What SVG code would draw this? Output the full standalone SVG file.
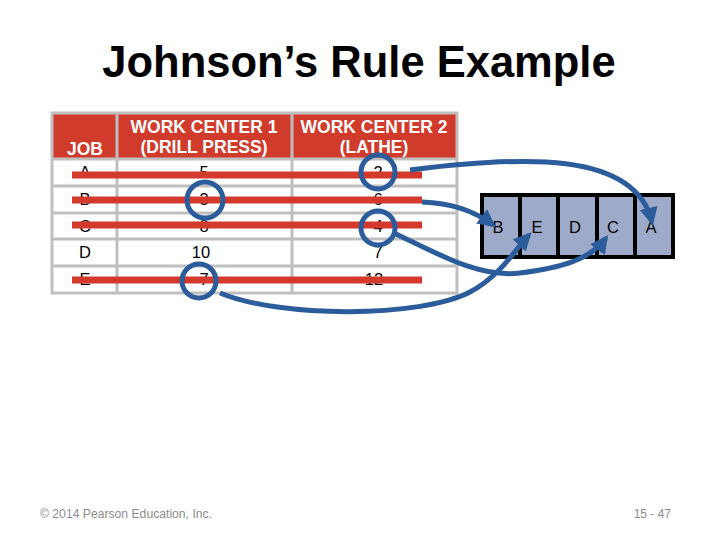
<svg xmlns="http://www.w3.org/2000/svg" width="720" height="540" viewBox="0 0 720 540">
<defs>
<style>
text{font-family:"Liberation Sans",Arial,sans-serif;}
.hd{fill:#fff;font-weight:bold;font-size:17.5px;text-anchor:middle;}
.cell{fill:#000;font-size:16.5px;text-anchor:middle;}
.grid{stroke:#BFBFBF;stroke-width:3;fill:none;}
.strike{stroke:#D33A2C;stroke-width:7;}
.ring{fill:none;stroke:#2B5C9B;stroke-width:5;}
.arr{fill:none;stroke:#2B5C9B;stroke-width:5;marker-end:url(#ah);}
.seq rect{fill:#9EAAC9;stroke:#000;stroke-width:4;}
.seq text{font-size:16.5px;text-anchor:middle;fill:#000;}
</style>
<marker id="ah" viewBox="0 0 10 10" refX="8" refY="5" markerWidth="3.6" markerHeight="3.6" orient="auto" markerUnits="strokeWidth">
<path d="M0,0 L10,5 L0,10 z" fill="#2B5C9B"/>
</marker>
</defs>
<rect width="720" height="540" fill="#fff"/>
<text x="359" y="77" font-size="43.5" font-weight="bold" text-anchor="middle" fill="#000">Johnson’s Rule Example</text>

<g id="table">
<rect x="52" y="113" width="405" height="46" fill="#D13B2C"/>
<rect x="52" y="113" width="405" height="180" class="grid"/>
<line x1="117" y1="113" x2="117" y2="293" class="grid"/>
<line x1="292" y1="113" x2="292" y2="293" class="grid"/>
<line x1="52" y1="159" x2="457" y2="159" class="grid"/>
<line x1="52" y1="186" x2="457" y2="186" class="grid"/>
<line x1="52" y1="213" x2="457" y2="213" class="grid"/>
<line x1="52" y1="239" x2="457" y2="239" class="grid"/>
<line x1="52" y1="266" x2="457" y2="266" class="grid"/>
<text x="85" y="155" class="hd">JOB</text>
<text x="204" y="133" class="hd">WORK CENTER 1</text>
<text x="204" y="153" class="hd">(DRILL PRESS)</text>
<text x="374" y="133" class="hd">WORK CENTER 2</text>
<text x="374" y="153" class="hd">(LATHE)</text>
<text x="85" y="178" class="cell">A</text><text x="204" y="178" class="cell">5</text><text x="378" y="178" class="cell">2</text>
<text x="85" y="205" class="cell">B</text><text x="204" y="205" class="cell">3</text><text x="378" y="205" class="cell">6</text>
<text x="85" y="232" class="cell">C</text><text x="204" y="232" class="cell">8</text><text x="378" y="232" class="cell">4</text>
<text x="85" y="258" class="cell">D</text><text x="201" y="258" class="cell">10</text><text x="378" y="258" class="cell">7</text>
<text x="85" y="285" class="cell">E</text><text x="204" y="285" class="cell">7</text><text x="374" y="285" class="cell">12</text>
</g>

<g id="strikes">
<line x1="72" y1="175" x2="422" y2="175" class="strike"/>
<line x1="72" y1="200" x2="422" y2="200" class="strike"/>
<line x1="72" y1="225" x2="422" y2="225" class="strike"/>
<line x1="72" y1="280" x2="422" y2="280" class="strike"/>
</g>

<g id="circles">
<circle cx="205" cy="200" r="18" class="ring"/>
<circle cx="199" cy="281" r="17" class="ring"/>
<circle cx="378" cy="172" r="17" class="ring"/>
<circle cx="378" cy="228" r="17" class="ring"/>
</g>

<g id="sequence" class="seq">
<g id="seq-B"><rect x="482" y="195" width="38" height="62"/><text x="498" y="233">B</text></g>
<g id="seq-E"><rect x="520" y="195" width="38" height="62"/><text x="537" y="233">E</text></g>
<g id="seq-D"><rect x="558" y="195" width="39" height="62"/><text x="575" y="233">D</text></g>
<g id="seq-C"><rect x="597" y="195" width="38" height="62"/><text x="613" y="233">C</text></g>
<g id="seq-A"><rect x="635" y="195" width="38" height="62"/><text x="651" y="233">A</text></g>
</g>

<g id="connectors">
<path class="arr" d="M410,170 C520,156 635,150 652,222"/>
<path class="arr" d="M422,202 C452,203 476,212 493,225"/>
<path class="arr" d="M396,234 C440,255 480,278 520,273 C560,268 590,260 606,238"/>
<path class="arr" d="M220,293 C280,318 420,318 470,292 C500,276 515,250 529,235"/>
</g>

<text x="40" y="518" font-size="12" fill="#8C8C8C" textLength="172" lengthAdjust="spacingAndGlyphs">© 2014 Pearson Education, Inc.</text>
<text x="671" y="518" font-size="12" fill="#8C8C8C" text-anchor="end">15 - 47</text>
</svg>
